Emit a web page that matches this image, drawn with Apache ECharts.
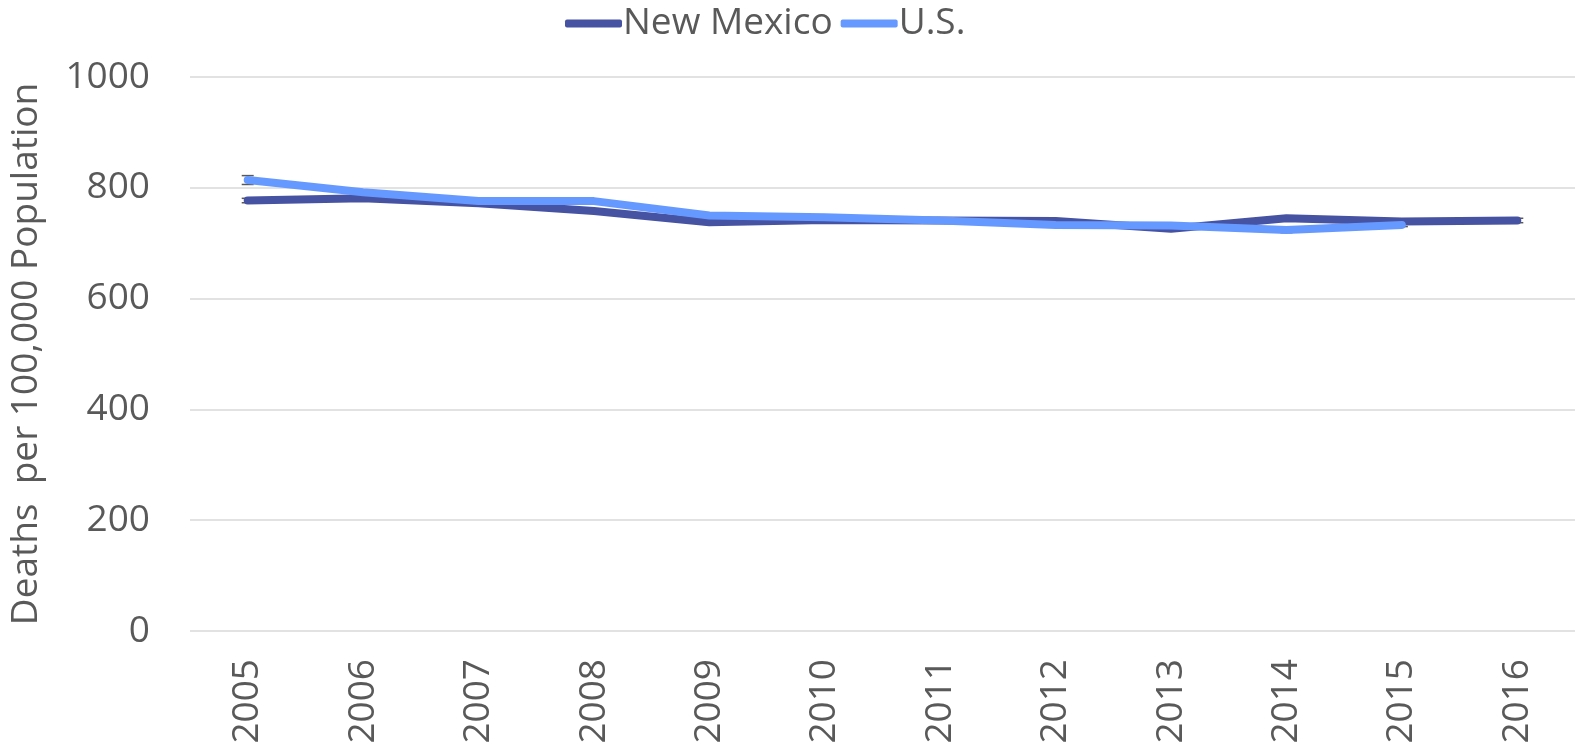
<!DOCTYPE html>
<html>
<head>
<meta charset="utf-8">
<script src="https://cdn.jsdelivr.net/npm/echarts@6/dist/echarts.min.js"></script>
<style>
  html, body { margin: 0; padding: 0; background: #fff; }
  #main { width: 1575px; height: 749px; }
</style>
</head>
<body>
<div id="main"></div>
<script>
// 年份
var years = ['2005', '2006', '2007', '2008', '2009', '2010', '2011', '2012', '2013', '2014', '2015', '2016'];
// 新墨西哥州
var newMexico = [777, 781, 772, 758, 738, 742, 741, 740, 726, 745, 739, 741];
var newMexicoErr = [4, 4, 4, 4, 4, 4, 4, 4, 4, 4, 4, 4];
// 美国
var usa = [814, 792, 776, 776, 750, 747, 741, 733, 732, 724, 733, null];
var usaErr = [8, 3, 3, 3, 3, 3, 3, 3, 3, 5, 3, null];

function errorData(vals, errs) {
  return vals.map(function (v, i) {
    return v == null ? [i, null, null] : [i, v - errs[i], v + errs[i]];
  });
}

function renderError(params, api) {
  if (api.value(1) == null || isNaN(api.value(1))) return;
  var lo = api.coord([api.value(0), api.value(1)]);
  var hi = api.coord([api.value(0), api.value(2)]);
  var hw = 6;
  var style = { stroke: '#595959', lineWidth: 1.5 };
  return {
    type: 'group',
    children: [
      { type: 'line', shape: { x1: lo[0], y1: lo[1], x2: hi[0], y2: hi[1] }, style: style },
      { type: 'line', shape: { x1: lo[0] - hw, y1: lo[1], x2: lo[0] + hw, y2: lo[1] }, style: style },
      { type: 'line', shape: { x1: hi[0] - hw, y1: hi[1], x2: hi[0] + hw, y2: hi[1] }, style: style }
    ]
  };
}

var chartDom = document.getElementById('main');
var myChart = echarts.init(chartDom);
var font = '"Open Sans", sans-serif';
var fs = 37;

var option = {
  animation: false,
  textStyle: { fontFamily: font },
  legend: {
    data: ['New Mexico', 'U.S.'],
    top: 0,
    left: 560,
    icon: 'roundRect',
    itemWidth: 57,
    itemHeight: 8,
    itemGap: 8,
    textStyle: { fontSize: fs, color: '#595959', fontFamily: font, padding: [0, 0, 0, -4] }
  },
  grid: { left: 185, right: 0, top: 77, bottom: 118 },
  xAxis: {
    type: 'category',
    data: years,
    axisLine: { show: false },
    axisTick: { show: false },
    axisLabel: { rotate: 90, fontSize: fs, color: '#595959', margin: 28, fontFamily: font }
  },
  yAxis: {
    type: 'value',
    min: 0,
    max: 1000,
    interval: 200,
    name: 'Deaths  per 100,000 Population',
    nameLocation: 'middle',
    nameGap: 145,
    nameTextStyle: { fontSize: fs, color: '#595959', fontFamily: font },
    axisLabel: {
      fontSize: fs, color: '#595959', margin: 40, fontFamily: font,
      formatter: function (v) { return String(v); }
    },
    splitLine: { lineStyle: { color: '#d9d9d9', width: 1.5 } }
  },
  series: [
    {
      name: 'New Mexico',
      type: 'line',
      data: newMexico,
      symbol: 'none',
      lineStyle: { width: 8, color: '#4652a2', cap: 'round', join: 'round' },
      itemStyle: { color: '#4652a2' },
      z: 2
    },
    {
      name: 'U.S.',
      type: 'line',
      data: usa,
      symbol: 'none',
      lineStyle: { width: 8, color: '#6699ff', cap: 'round', join: 'round' },
      itemStyle: { color: '#6699ff' },
      z: 3
    },
    {
      name: 'NM error',
      type: 'custom',
      renderItem: renderError,
      data: errorData(newMexico, newMexicoErr),
      encode: { x: 0, y: [1, 2] },
      z: 1
    },
    {
      name: 'US error',
      type: 'custom',
      renderItem: renderError,
      data: errorData(usa, usaErr),
      encode: { x: 0, y: [1, 2] },
      z: 1
    }
  ]
};
option && myChart.setOption(option);
</script>
</body>
</html>
